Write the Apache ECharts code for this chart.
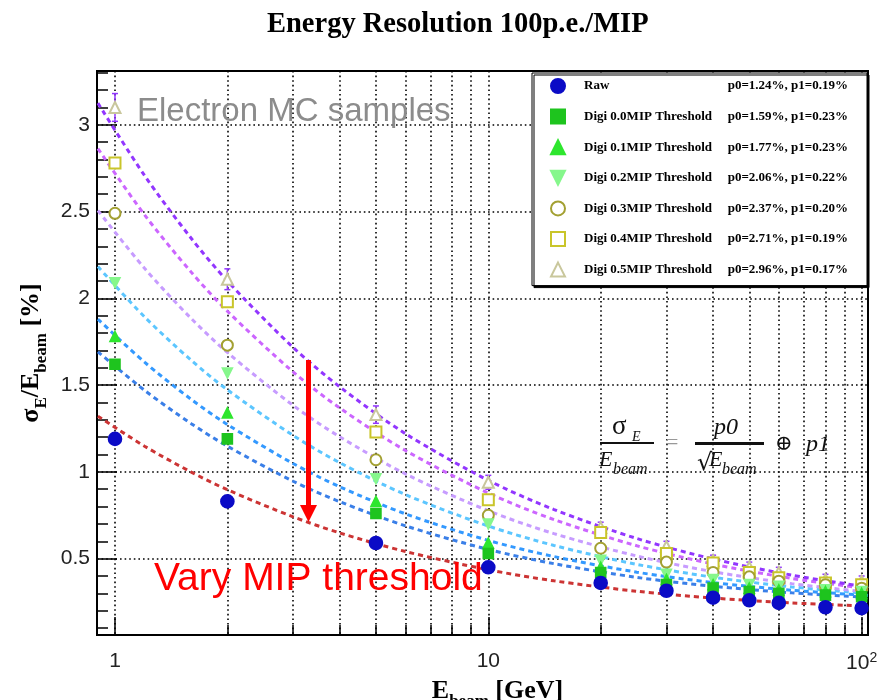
<!DOCTYPE html>
<html>
<head>
<meta charset="utf-8">
<title>Energy Resolution 100p.e./MIP</title>
<script src="https://cdn.jsdelivr.net/npm/echarts@6/dist/echarts.min.js"></script>
<style>
html, body { margin: 0; padding: 0; background: #fff; }
#chart { width: 879px; height: 700px; }
</style>
</head>
<body>
<div id="chart"></div>
<script>
// beam energies of the MC samples [GeV]
var energies = [1, 2, 5, 10, 20, 30, 40, 50, 60, 80, 100];

// sigma_E / E_beam [%]
var raw    = [1.19, 0.83, 0.59, 0.45, 0.36, 0.315, 0.275, 0.26, 0.245, 0.22, 0.215];
var digi00 = [1.62, 1.19, 0.76, 0.53, 0.42, 0.35, 0.33, 0.31, 0.30, 0.29, 0.28];
var digi01 = [1.78, 1.34, 0.83, 0.59, 0.45, 0.38, 0.35, 0.33, 0.32, 0.31, 0.30];
var digi02 = [2.09, 1.57, 0.96, 0.70, 0.49, 0.41, 0.38, 0.35, 0.34, 0.32, 0.31];
var digi03 = [2.49, 1.73, 1.07, 0.75, 0.56, 0.48, 0.42, 0.395, 0.37, 0.35, 0.33];
var digi04 = [2.78, 1.98, 1.23, 0.84, 0.65, 0.53, 0.475, 0.42, 0.39, 0.36, 0.35];
var digi05 = [3.10, 2.11, 1.33, 0.94, 0.68, 0.57, 0.49, 0.45, 0.42, 0.38, 0.37];
// error bars visible on the 0.5MIP points
var digi05Err = [0.08, 0.06, 0.05, 0.04, 0.03, 0.03, 0.03, 0.03, 0.03, 0.03, 0.03];

// dashed fit curves at these energies
var curveE = [0.9, 1.2, 1.6, 2, 3, 4, 6, 10, 15, 25, 40, 65, 104];
var fitRaw = [1.321, 1.148, 0.999, 0.897, 0.741, 0.648, 0.541, 0.436, 0.372, 0.312, 0.273, 0.245, 0.226];
var fit00  = [1.692, 1.470, 1.278, 1.148, 0.946, 0.828, 0.689, 0.553, 0.471, 0.392, 0.341, 0.303, 0.278];
var fit01  = [1.880, 1.632, 1.418, 1.273, 1.048, 0.914, 0.758, 0.605, 0.512, 0.422, 0.362, 0.318, 0.288];
var fit02  = [2.183, 1.893, 1.643, 1.473, 1.210, 1.053, 0.869, 0.688, 0.576, 0.467, 0.393, 0.337, 0.299];
var fit03  = [2.506, 2.173, 1.884, 1.688, 1.383, 1.202, 0.988, 0.776, 0.644, 0.515, 0.425, 0.356, 0.307];
var fit04  = [2.863, 2.481, 2.151, 1.926, 1.576, 1.368, 1.123, 0.878, 0.725, 0.574, 0.469, 0.386, 0.327];
var fit05  = [3.125, 2.708, 2.346, 2.100, 1.717, 1.490, 1.220, 0.951, 0.783, 0.616, 0.498, 0.405, 0.336];

var names = ['Raw', 'Digi 0.0MIP Threshold', 'Digi 0.1MIP Threshold', 'Digi 0.2MIP Threshold',
             'Digi 0.3MIP Threshold', 'Digi 0.4MIP Threshold', 'Digi 0.5MIP Threshold'];
var fitLabels = ['p0=1.24%, p1=0.19%', 'p0=1.59%, p1=0.23%', 'p0=1.77%, p1=0.23%', 'p0=2.06%, p1=0.22%',
                 'p0=2.37%, p1=0.20%', 'p0=2.71%, p1=0.19%', 'p0=2.96%, p1=0.17%'];

// axis ticks
var xMajor = [1, 10, 100];
var xAll = [1, 2, 3, 4, 5, 6, 7, 8, 9, 10, 20, 30, 40, 50, 60, 70, 80, 90, 100];
var yMajor = [0.5, 1, 1.5, 2, 2.5, 3];
var yMinor = [0.1, 0.2, 0.3, 0.4, 0.6, 0.7, 0.8, 0.9, 1.1, 1.2, 1.3, 1.4, 1.6, 1.7, 1.8, 1.9,
              2.1, 2.2, 2.3, 2.4, 2.6, 2.7, 2.8, 2.9, 3.1, 3.2, 3.3];

var points = [raw, digi00, digi01, digi02, digi03, digi04, digi05];
var fits = [fitRaw, fit00, fit01, fit02, fit03, fit04, fit05];

var lineColors = ['#cc3434', '#3a7fe8', '#3399ff', '#5cc6ff', '#c79cff', '#cc66ff', '#9236ff'];
var markColors = ['#0b0bc6', '#1ec41e', '#2ee62e', '#86f78c', '#a3a032', '#c9c52a', '#c9c79c'];
var symbols = ['circle', 'rect', 'triangle', 'path://M0,0L10,0L5,10Z', 'emptyCircle', 'emptyRect', 'emptyTriangle'];
var sizes = [13, 10, 10, 10, 11, 11, 11];

var chart = echarts.init(document.getElementById('chart'));

function pairs(xs, ys) {
    return xs.map(function (x, i) { return [x, ys[i]]; });
}

var series = [];
fits.forEach(function (f, i) {
    series.push({
        name: names[i] + ' fit',
        type: 'line',
        data: pairs(curveE, f),
        smooth: 0.3,
        showSymbol: false,
        silent: true,
        z: 2,
        lineStyle: { color: lineColors[i], width: 3, type: [5, 4] }
    });
});

series.push({
    name: 'err',
    type: 'custom',
    silent: true,
    z: 3,
    data: energies.map(function (e, i) { return [e, digi05[i], digi05Err[i]]; }),
    renderItem: function (params, api) {
        var top = api.coord([api.value(0), api.value(1) + api.value(2)]);
        var bot = api.coord([api.value(0), api.value(1) - api.value(2)]);
        var st = { stroke: lineColors[6], lineWidth: 1.5 };
        return {
            type: 'group',
            children: [
                { type: 'line', shape: { x1: top[0], y1: top[1], x2: bot[0], y2: bot[1] }, style: st },
                { type: 'line', shape: { x1: top[0] - 3, y1: top[1], x2: top[0] + 3, y2: top[1] }, style: st },
                { type: 'line', shape: { x1: bot[0] - 3, y1: bot[1], x2: bot[0] + 3, y2: bot[1] }, style: st }
            ]
        };
    }
});

// markers, Raw last so it sits on top
for (var i = points.length - 1; i >= 0; i--) {
    series.push({
        name: names[i],
        type: 'scatter',
        data: pairs(energies, points[i]),
        symbol: symbols[i],
        symbolSize: sizes[i],
        z: 4,
        itemStyle: { color: markColors[i], borderColor: markColors[i], borderWidth: 1.6, opacity: 1 }
    });
}

var serif = '"Liberation Serif", "Times New Roman", serif';
var sans = '"Liberation Sans", Arial, sans-serif';

var option = {
    animation: false,
    backgroundColor: '#fff',
    title: {
        text: 'Energy Resolution 100p.e./MIP',
        left: 262,
        top: 5,
        textStyle: { fontFamily: serif, fontWeight: 'bold', fontSize: 28.5, color: '#000' }
    },
    legend: {
        data: names,
        orient: 'vertical',
        left: 532,
        top: 73,
        padding: [5, 19, 8, 18],
        itemWidth: 14,
        itemHeight: 14,
        itemGap: 14.6,
        selectedMode: false,
        backgroundColor: '#fff',
        borderColor: '#000',
        borderWidth: 1,
        shadowColor: '#000',
        shadowOffsetX: 2,
        shadowOffsetY: 2,
        shadowBlur: 0,
        formatter: function (name) {
            return '{g|}{n|' + name + '}{p|' + fitLabels[names.indexOf(name)] + '}';
        },
        textStyle: {
            rich: {
                g: { width: 14, lineHeight: 14 },
                n: { fontFamily: serif, fontWeight: 'bold', fontSize: 13, color: '#000', width: 144, lineHeight: 14 },
                p: { fontFamily: serif, fontWeight: 'bold', fontSize: 13, color: '#000', width: 120, align: 'right', lineHeight: 14 }
            }
        }
    },
    grid: {
        left: 97, right: 11, top: 71, bottom: 65,
        outerBoundsMode: 'none',
        containLabel: false,
        show: true, borderColor: '#000', borderWidth: 2
    },
    xAxis: [{
        type: 'log',
        min: 0.895,
        max: 104,
        name: '{b|E}{s|beam}{b| [GeV]}',
        nameLocation: 'middle',
        nameGap: 36,
        nameTextStyle: {
            padding: [0, 0, 0, 30],
            rich: {
                b: { fontFamily: serif, fontWeight: 'bold', fontSize: 26, color: '#000', verticalAlign: 'bottom', lineHeight: 28 },
                s: { fontFamily: serif, fontWeight: 'bold', fontSize: 17, color: '#000', verticalAlign: 'bottom', padding: [0, 0, -6, 0] }
            }
        },
        axisLine: { show: true, lineStyle: { color: '#000', width: 2 } },
        axisTick: { inside: true, length: 10, customValues: xAll, lineStyle: { color: '#000', width: 1.5 } },
        axisLabel: {
            customValues: xMajor,
            margin: 16,
            fontFamily: sans,
            fontSize: 21,
            color: '#222',
            formatter: function (v) {
                return v >= 99 ? '{a|10}{s|2}' : String(Math.round(v));
            },
            rich: {
                a: { fontFamily: sans, fontSize: 21, color: '#222' },
                s: { fontFamily: sans, fontSize: 14, color: '#222', verticalAlign: 'top', padding: [0, 0, 10, 0] }
            }
        },
        splitLine: { show: true, lineStyle: { color: '#000', width: 1.6, type: [1.6, 3] } }
    }, {
        type: 'log',
        min: 0.895,
        max: 104,
        position: 'bottom',
        axisLine: { show: false },
        axisLabel: { show: false },
        splitLine: { show: false },
        axisTick: { inside: true, length: 18, customValues: xMajor, lineStyle: { color: '#000', width: 1.5 } }
    }],
    yAxis: [{
        type: 'value',
        min: 0.06,
        max: 3.31,
        position: 'left',
        name: '{b|σ}{s|E}{b|/E}{s|beam}{b| [%]}',
        nameLocation: 'middle',
        nameGap: 47,
        nameTextStyle: {
            rich: {
                b: { fontFamily: serif, fontWeight: 'bold', fontSize: 26, color: '#000', verticalAlign: 'bottom', lineHeight: 28 },
                s: { fontFamily: serif, fontWeight: 'bold', fontSize: 17, color: '#000', verticalAlign: 'bottom', padding: [0, 0, -6, 0] }
            }
        },
        axisLine: { show: true, lineStyle: { color: '#000', width: 2 } },
        axisTick: { inside: true, length: 20, customValues: yMajor, lineStyle: { color: '#000', width: 1.5 } },
        axisLabel: {
            customValues: yMajor,
            margin: 7,
            fontFamily: sans,
            fontSize: 21,
            color: '#222'
        },
        splitLine: { show: true, lineStyle: { color: '#000', width: 1.6, type: [1.6, 3] } }
    }, {
        type: 'value',
        min: 0.06,
        max: 3.31,
        position: 'left',
        axisLine: { show: false },
        axisLabel: { show: false },
        splitLine: { show: false },
        axisTick: { inside: true, length: 11, customValues: yMinor, lineStyle: { color: '#000', width: 1.5 } }
    }],
    series: series,
    graphic: [
        {
            type: 'text', left: 137, top: 95, z: 1,
            style: { text: 'Electron MC samples', font: '33px ' + sans, fill: '#8c8c8c' }
        },
        {
            type: 'text', left: 154, top: 560, z: 10,
            style: { text: 'Vary MIP threshold', font: '39px ' + sans, fill: '#ff0000' }
        },
        // red arrow
        { type: 'rect', shape: { x: 306, y: 360, width: 5, height: 148 }, style: { fill: '#ff0000' }, z: 10 },
        { type: 'polygon', shape: { points: [[300, 505], [317, 505], [308.5, 522]] }, style: { fill: '#ff0000' }, z: 10 },
        // formula
        { type: 'text', x: 612, y: 427, z: 10, style: { text: 'σ', font: '27px ' + serif, fill: '#111', textVerticalAlign: 'middle' } },
        { type: 'text', x: 632, y: 437, z: 10, style: { text: 'E', font: 'italic 14px ' + serif, fill: '#111', textVerticalAlign: 'middle' } },
        { type: 'rect', z: 10, shape: { x: 600, y: 442, width: 54, height: 2 }, style: { fill: '#111' } },
        { type: 'text', x: 599, y: 460, z: 10, style: { text: 'E', font: 'italic 22px ' + serif, fill: '#111', textVerticalAlign: 'middle' } },
        { type: 'text', x: 613, y: 470, z: 10, style: { text: 'beam', font: 'italic 16px ' + serif, fill: '#111', textVerticalAlign: 'middle' } },
        { type: 'text', x: 666, y: 443, z: 10, style: { text: '=', font: '22px ' + serif, fill: '#999', textVerticalAlign: 'middle' } },
        { type: 'text', x: 714, y: 428, z: 10, style: { text: 'p0', font: 'italic 24px ' + serif, fill: '#111', textVerticalAlign: 'middle' } },
        { type: 'rect', z: 10, shape: { x: 695, y: 442, width: 69, height: 3 }, style: { fill: '#111' } },
        { type: 'text', x: 697, y: 464, z: 10, style: { text: '√', font: '24px "DejaVu Serif", serif', fill: '#111', textVerticalAlign: 'middle' } },
        { type: 'text', x: 709, y: 460, z: 10, style: { text: 'E', font: 'italic 22px ' + serif, fill: '#111', textVerticalAlign: 'middle' } },
        { type: 'text', x: 722, y: 470, z: 10, style: { text: 'beam', font: 'italic 16px ' + serif, fill: '#111', textVerticalAlign: 'middle' } },
        { type: 'text', x: 775, y: 445, z: 10, style: { text: '⊕', font: '21px "DejaVu Serif", serif', fill: '#111', textVerticalAlign: 'middle' } },
        { type: 'text', x: 806, y: 445, z: 10, style: { text: 'p1', font: 'italic 24px ' + serif, fill: '#111', textVerticalAlign: 'middle' } }
    ]
};

chart.setOption(option);
</script>
</body>
</html>
